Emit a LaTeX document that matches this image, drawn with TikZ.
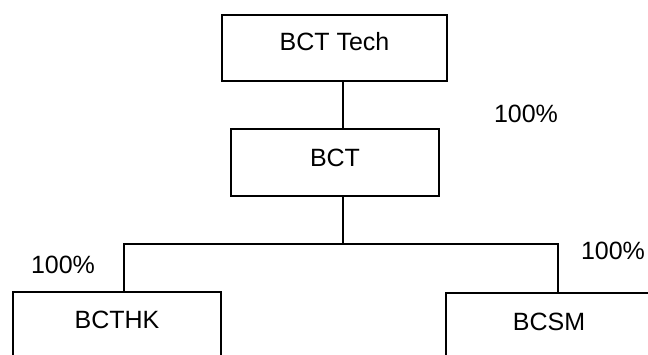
\documentclass[tikz,border=0pt]{standalone}
\usepackage{fontspec}
\setmainfont{Liberation Sans}
\begin{document}
\begin{tikzpicture}[x=1pt,y=-1pt,
  box/.style={draw=black, line width=1.6pt, fill=white, inner sep=0pt,
    font=\fontsize{25}{30}\selectfont, text height=18pt},
  pct/.style={font=\fontsize{25}{30}\selectfont, inner sep=0pt, anchor=base},
  wire/.style={draw=black, line width=1.6pt}]
\useasboundingbox (0,0) rectangle (648,354);
\clip (0,0) rectangle (648,354);
% boxes
\node[box, minimum width=225pt, minimum height=66pt, text depth=14pt] (tech) at (334.5,48) {BCT Tech};
\node[box, minimum width=208pt, minimum height=67pt, text depth=11pt] (bct) at (335,162.5) {BCT};
\node[box, minimum width=208pt, minimum height=68pt, text depth=14pt] (hk) at (117,326) {BCTHK};
\node[box, minimum width=206pt, minimum height=68pt, text depth=12pt] (sm) at (549,327) {BCSM};
% bus coordinates
\coordinate (busM) at (343,244);
\coordinate (busL) at (124,244);
\coordinate (busR) at (558,244);
% connectors
\draw[wire] (tech.south -| busM) -- (bct.north -| busM);
\draw[wire] (bct.south -| busM) -- (busM);
\draw[wire] (hk.north -| busL) -- (busL) -- (busR) -- (sm.north -| busR);
% labels
\node[pct] (p1) at (526,122) {100\%};
\node[pct] (p2) at (63,273) {100\%};
\node[pct] (p3) at (613,259) {100\%};
\end{tikzpicture}
\end{document}
